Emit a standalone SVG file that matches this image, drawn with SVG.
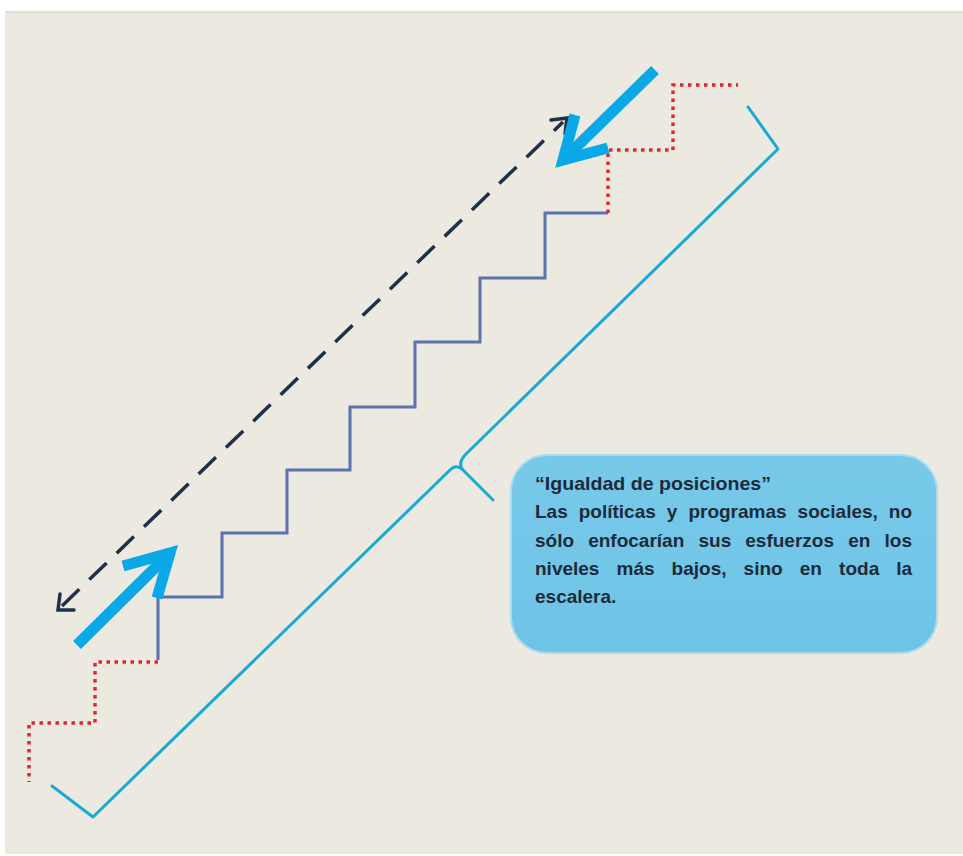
<svg xmlns="http://www.w3.org/2000/svg" width="963" height="856" viewBox="0 0 963 856">
<style>
.stair{fill:none;stroke:#5B73AE;stroke-width:3;stroke-linejoin:miter}
.dots{fill:none;stroke:#E3262E;stroke-width:3.5;stroke-dasharray:3.5 4.5}
.brace{fill:none;stroke:#1AA9D6;stroke-width:3;stroke-linejoin:round;stroke-linecap:round}
.dash{fill:none;stroke:#1F3049;stroke-width:3.5;stroke-dasharray:24 14}
.head{fill:none;stroke:#1F3049;stroke-width:3.5;stroke-linecap:round;stroke-linejoin:miter}
.big{fill:none;stroke:#0AA8E6;stroke-width:11;stroke-linejoin:miter;stroke-linecap:butt}
.txt{font-family:"Liberation Sans",Arial,sans-serif;font-weight:bold;font-size:19px;fill:#1C2A3B}
.end{text-anchor:end}
</style>
<defs>
<linearGradient id="boxg" x1="0" y1="0" x2="0" y2="1">
<stop offset="0" stop-color="#78C9E9"/>
<stop offset="1" stop-color="#6EC4E6"/>
</linearGradient>
</defs>
<rect x="0" y="0" width="963" height="856" fill="#FFFFFF"/>
<rect x="5" y="11" width="958" height="843" fill="#ECE9E1"/>
<line x1="5" y1="12" x2="963" y2="12" stroke="#E2DED6" stroke-width="2"/>

<g id="stairs">
<path class="stair" d="M158,660 V597 H222 V533 H287 V470 H350 V407 H415 V342 H480 V278 H545 V213 H608"/>
</g>
<g id="stairs-top-dotted">
<path class="dots" d="M608,213 V150 H673 V85 H738"/>
</g>
<g id="stairs-bottom-dotted">
<path class="dots" d="M158,662 H95 V723 H29 V782"/>
</g>

<g id="brace">
<path class="brace" d="M52,786 L93,817 L450,470 Q456,464 462,469 L493,500"/>
<path class="brace" d="M462,469 Q458,462 466,454 L778,149 L748,107"/>
</g>

<g id="connectors">
<line class="dash" x1="62" y1="606" x2="563" y2="122"/>
<polyline class="head" points="60,594 58,610 74,610"/>
<polyline class="head" points="551,120 567,118 565,134"/>
<line class="big" x1="77" y1="645" x2="166" y2="557"/>
<polyline class="big" points="123,566 170,553 157,598"/>
<line class="big" x1="655" y1="70" x2="566" y2="157"/>
<polyline class="big" points="575,115 563,160 608,148"/>
</g>

<g id="textbox">
<rect x="511" y="455" width="426" height="198" rx="36" ry="36" fill="url(#boxg)" stroke="#A9DCEF" stroke-width="2"/>
<text class="txt" x="535" y="490" textLength="236" lengthAdjust="spacingAndGlyphs">“Igualdad de posiciones”</text>
<text class="txt" y="518"><tspan x="535">Las</tspan> <tspan x="578.7">políticas</tspan> <tspan x="666.8">y</tspan> <tspan x="688.4">programas</tspan> <tspan x="797.6">sociales,</tspan> <tspan x="912" class="end">no</tspan></text>
<text class="txt" y="547"><tspan x="535">sólo</tspan> <tspan x="588.2">enfocarían</tspan> <tspan x="698.5">sus</tspan> <tspan x="745.3">esfuerzos</tspan> <tspan x="848.2">en</tspan> <tspan x="912" class="end">los</tspan></text>
<text class="txt" y="575"><tspan x="535">niveles</tspan> <tspan x="616.5">más</tspan> <tspan x="671.6">bajos,</tspan> <tspan x="743.6">sino</tspan> <tspan x="799.8">en</tspan> <tspan x="839.1">toda</tspan> <tspan x="912" class="end">la</tspan></text>
<text class="txt" x="535" y="603">escalera.</text>
</g>
</svg>
